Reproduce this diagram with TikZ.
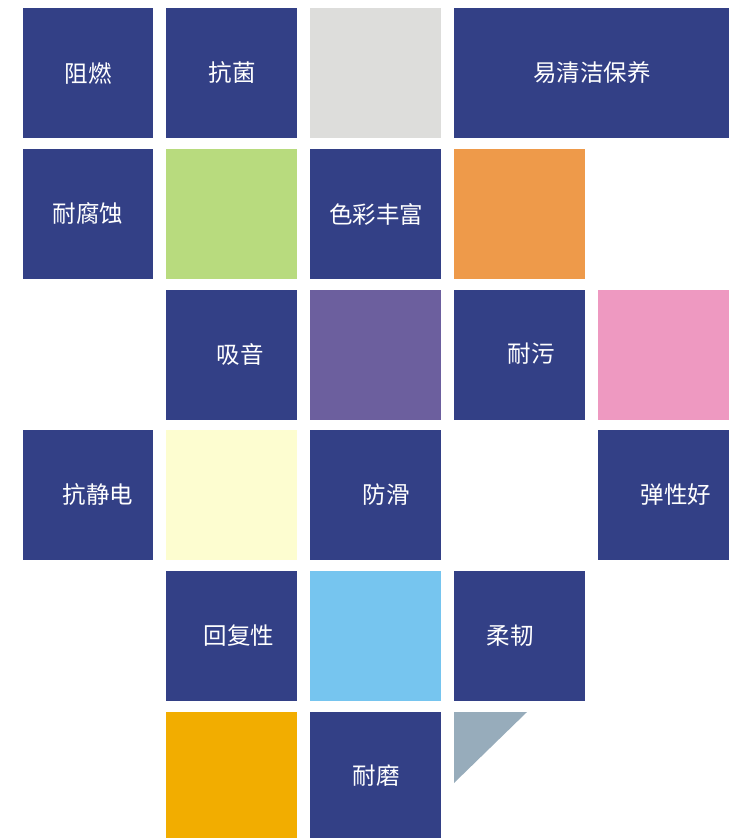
\documentclass[tikz,border=0pt]{standalone}
\usepackage{fontspec}
\newfontfamily\cjk{Noto Sans CJK SC}
\definecolor{navy}{HTML}{334086}
\definecolor{tgray}{HTML}{DDDDDB}
\definecolor{tgreen}{HTML}{B8DB7E}
\definecolor{torange}{HTML}{EE9A4A}
\definecolor{tpurple}{HTML}{6C5F9E}
\definecolor{tpink}{HTML}{EE99C1}
\definecolor{tyellow}{HTML}{FDFDD0}
\definecolor{tblue}{HTML}{76C5EF}
\definecolor{tamber}{HTML}{F2AD00}
\definecolor{tslate}{HTML}{97ACBB}
\tikzset{
  tile/.style={fill=#1, draw=none},
  lbl/.style={text=white, font=\cjk\fontsize{23.5}{26}\selectfont, inner sep=0pt}
}
\begin{document}
\begin{tikzpicture}[x=1pt,y=-1pt]
\useasboundingbox (0,0) rectangle (733,838);
% row 1
\path[tile=navy] (23,8) rectangle (153,138);
\path[tile=navy] (166,8) rectangle (297,138);
\path[tile=tgray] (310,8) rectangle (441,138);
\path[tile=navy] (454,8) rectangle (729,138);
\node[lbl] (t1) at (88,73) {阻燃};
\node[lbl] (t2) at (232,73) {抗菌};
\node[lbl] (t3) at (592,73) {易清洁保养};
% row 2
\path[tile=navy] (23,149) rectangle (153,279);
\path[tile=tgreen] (166,149) rectangle (297,279);
\path[tile=navy] (310,149) rectangle (441,279);
\path[tile=torange] (454,149) rectangle (585,279);
\node[lbl] (t4) at (88,214) {耐腐蚀};
\node[lbl] (t5) at (376,214) {色彩丰富};
% row 3
\path[tile=navy] (166,290) rectangle (297,420);
\path[tile=tpurple] (310,290) rectangle (441,420);
\path[tile=navy] (454,290) rectangle (585,420);
\path[tile=tpink] (598,290) rectangle (729,420);
\node[lbl] (t6) at (240,354) {吸音};
\node[lbl] (t7) at (531,354) {耐污};
% row 4
\path[tile=navy] (23,430) rectangle (153,560);
\path[tile=tyellow] (166,430) rectangle (297,560);
\path[tile=navy] (310,430) rectangle (441,560);
\path[tile=navy] (598,430) rectangle (729,560);
\node[lbl] (t8) at (98,495) {抗静电};
\node[lbl] (t9) at (386,495) {防滑};
\node[lbl] (t10) at (676,495) {弹性好};
% row 5
\path[tile=navy] (166,571) rectangle (297,701);
\path[tile=tblue] (310,571) rectangle (441,701);
\path[tile=navy] (454,571) rectangle (585,701);
\node[lbl] (t11) at (239,636) {回复性};
\node[lbl] (t12) at (510,636) {柔韧};
% row 6
\path[tile=tamber] (166,712) rectangle (297,838);
\path[tile=navy] (310,712) rectangle (441,838);
\path[tile=tslate] (454,712) -- (527,712) -- (454,783) -- cycle;
\node[lbl] (t13) at (376,776) {耐磨};
\end{tikzpicture}
\end{document}
